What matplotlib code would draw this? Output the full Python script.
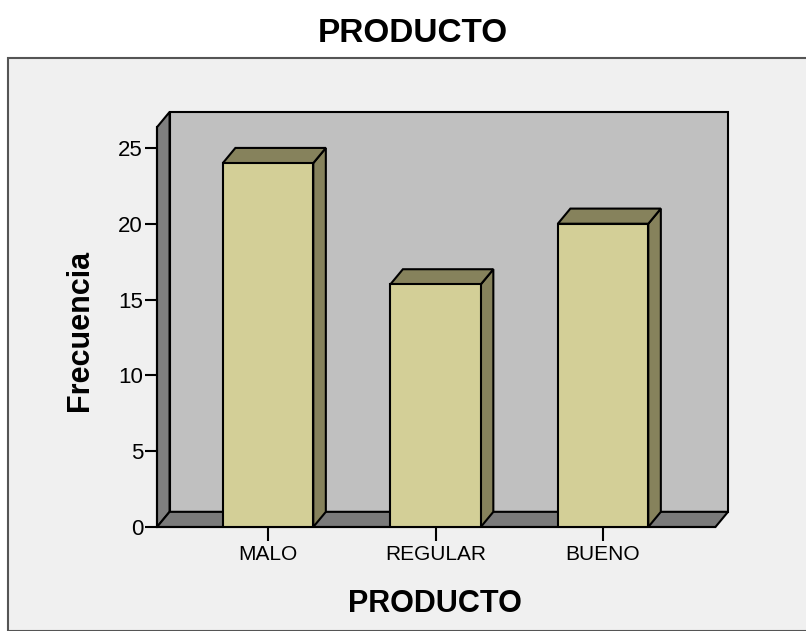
import matplotlib.pyplot as plt
from matplotlib.patches import Polygon, Rectangle

plt.rcParams['font.family'] = ['Liberation Sans', 'DejaVu Sans']

# data
categories = ['MALO', 'REGULAR', 'BUENO']
frequencies = [24, 16, 20]
y_ticks = [0, 5, 10, 15, 20, 25]

# styles
front_col = '#d3cf97'
dark_col = '#86825c'
wall_col = '#c0c0c0'
side_col = '#7f7f7f'
floor_col = '#7a7a7a'
lw = 1.5

W, H = 806, 631
fig = plt.figure(figsize=(W / 100, H / 100), dpi=100, facecolor='white')

# light gray panel behind the chart
fig.patches.append(Rectangle((8 / W, 0), 1, 1 - 58 / H, transform=fig.transFigure,
                             facecolor='#f0f0f0', edgecolor='#555555', lw=1.5, zorder=-5))

# axes: left edge = front y axis, bottom edge = y 0
left, right, bottom, top = 157, 728, 527, 112
ax = fig.add_axes([left / W, 1 - bottom / H, (right - left) / W, (bottom - top) / H])
ax.patch.set_visible(False)
ax.set_zorder(2)

xmin, xmax = -0.663, 2.746
ytop = 27.37
ax.set_xlim(xmin, xmax)
ax.set_ylim(0, ytop)

# depth offset in data units
dx = 0.075
dy = 1.0
bw = 0.54

# back wall, side wall, floor
ax.add_patch(Polygon([(xmin + dx, dy), (xmax, dy), (xmax, ytop), (xmin + dx, ytop)],
                     closed=True, facecolor=wall_col, edgecolor='black', lw=lw, zorder=1,
                     clip_on=False))
ax.add_patch(Polygon([(xmin, 0), (xmin + dx, dy), (xmin + dx, ytop), (xmin, ytop - dy)],
                     closed=True, facecolor=side_col, edgecolor='black', lw=lw, zorder=1,
                     clip_on=False))
ax.add_patch(Polygon([(xmin, 0), (xmax - dx, 0), (xmax, dy), (xmin + dx, dy)],
                     closed=True, facecolor=floor_col, edgecolor='black', lw=lw, zorder=1,
                     clip_on=False))

# 3d bars
for i, v in enumerate(frequencies):
    x0, x1 = i - bw / 2, i + bw / 2
    ax.add_patch(Polygon([(x1, 0), (x1 + dx, dy), (x1 + dx, v + dy), (x1, v)],
                         closed=True, facecolor=dark_col, edgecolor='black', lw=lw, zorder=2))
    ax.add_patch(Polygon([(x0, v), (x1, v), (x1 + dx, v + dy), (x0 + dx, v + dy)],
                         closed=True, facecolor=dark_col, edgecolor='black', lw=lw, zorder=2))
    ax.add_patch(Rectangle((x0, 0), bw, v, facecolor=front_col, edgecolor='black',
                           lw=lw, zorder=3))

for s in ['top', 'right']:
    ax.spines[s].set_visible(False)
ax.spines['left'].set_bounds(0, ytop - dy)
ax.spines['bottom'].set_bounds(xmin, xmax - dx)
ax.spines['left'].set_linewidth(lw)
ax.spines['bottom'].set_linewidth(lw)
ax.xaxis.set_zorder(5)
ax.yaxis.set_zorder(5)

ax.set_yticks(y_ticks)
ax.set_xticks(range(len(categories)))
ax.set_xticklabels(categories)
ax.tick_params(axis='y', direction='out', length=9, width=1.5, pad=1, labelsize=16)
ax.tick_params(axis='x', direction='out', length=10, width=1.5, pad=3, labelsize=15)

fig.text(413 / W, 1 - 33 / H, 'PRODUCTO', ha='center', va='center',
         fontsize=24, fontweight='bold')
fig.text(435 / W, 1 - 604 / H, 'PRODUCTO', ha='center', va='center',
         fontsize=22, fontweight='bold')
fig.text(80 / W, 1 - 330 / H, 'Frecuencia', ha='center', va='center',
         rotation=90, fontsize=22, fontweight='bold')

fig.savefig('out.png', dpi=100, facecolor='white')
